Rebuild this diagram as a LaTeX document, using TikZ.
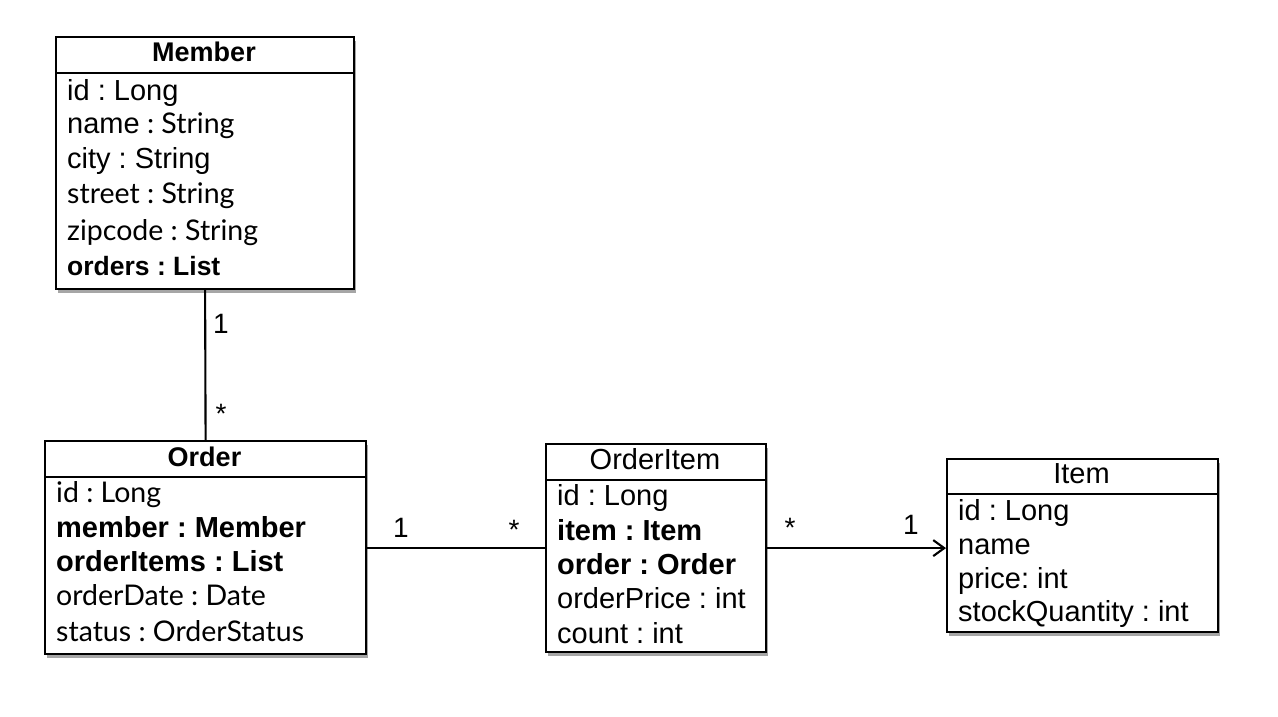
\documentclass[tikz,border=0pt]{standalone}
\usepackage{fontspec}
\setmainfont{Liberation Sans}
\newfontfamily\lightf{Lato}
\usetikzlibrary{arrows.meta,shadows}
\begin{document}
\frenchspacing
\begin{tikzpicture}[x=1pt,y=-1pt,
  cls/.style={draw, line width=2.2pt, fill=white, anchor=north west, inner sep=0pt,
    drop shadow={shadow xshift=2pt, shadow yshift=-3.5pt, opacity=0.35, fill=black}},
  conn/.style={line width=2.1pt},
  row/.style={anchor=base west, inner sep=0pt, font=\fontsize{29}{32}\selectfont},
  bm/.style={font=\fontsize{26.5}{30}\selectfont\bfseries},
  bo/.style={font=\fontsize{29}{32}\selectfont\bfseries},
  ttl/.style={anchor=base, inner sep=0pt, font=\fontsize{27}{30}\selectfont\bfseries},
  ttlr/.style={anchor=base, inner sep=0pt, font=\fontsize{29}{32}\selectfont},
  mult/.style={anchor=base, inner sep=0pt, font=\fontsize{28}{30}\selectfont},
  lt/.style={font=\fontsize{28.5}{32}\selectfont\lightf}]
\useasboundingbox[fill=white] (0,0) rectangle (1278,716);

% Member
\node[cls, minimum width=298pt, minimum height=252pt] (member) at (55,36) {};
\draw[conn] (member.north west) ++(0,37) -- ++(298,0);
\node[ttl] (memberT) at (204,61) {Member};
\node[row] (m1) at (67,100) {id : Long};
\node[row] (m2) at (67,133) {name{\fontsize{28.5}{32}\selectfont\lightf{} : String}};
\node[row] (m3) at (67,168) {city : String};
\node[row,lt] (m4) at (67,203) {street : String};
\node[row,lt] (m5) at (67,240) {zipcode : String};
\node[row,bm] (m6) at (67,275) {orders : List};

% Order
\node[cls, minimum width=321pt, minimum height=213pt] (order) at (44,440) {};
\draw[conn] (order.north west) ++(0,37) -- ++(321,0);
\node[ttl] (orderT) at (204.5,466) {Order};
\node[row,lt] (o1) at (56,502) {id : Long};
\node[row,bo] (o2) at (56,537) {member : Member};
\node[row,bo] (o3) at (56,571) {orderItems : List};
\node[row,lt] (o4) at (56,605) {orderDate : Date};
\node[row,lt] (o5) at (56,641) {status : OrderStatus};

% OrderItem
\node[cls, minimum width=220pt, minimum height=208pt] (orderitem) at (545,443) {};
\draw[conn] (orderitem.north west) ++(0,37) -- ++(220,0);
\node[ttlr] (orderitemT) at (655,469) {OrderItem};
\node[row] (i1) at (557,505) {id : Long};
\node[row,bo] (i2) at (557,540) {item : Item};
\node[row,bo] (i3) at (557,574) {order : Order};
\node[row] (i4) at (557,608) {orderPrice : int};
\node[row] (i5) at (557,643) {count : int};

% Item
\node[cls, minimum width=271pt, minimum height=173pt] (item) at (946,458) {};
\draw[conn] (item.north west) ++(0,36) -- ++(271,0);
\node[ttlr] (itemT) at (1081.5,483) {Item};
\node[row] (t1) at (958,520) {id : Long};
\node[row] (t2) at (958,554) {name};
\node[row] (t3) at (958,588) {price: int};
\node[row] (t4) at (958,621) {stockQuantity : int};

% connectors
\draw[conn] (member.south) -- (order.north);
\node[mult] (mo1) at (221,333) {1};
\node[mult] (mo2) at (221,423) {*};
\draw[conn] (order.east) -- (order.east -| orderitem.west);
\node[mult] (oi1) at (401,537) {1};
\node[mult] (oi2) at (514,539) {*};
\draw[conn, -{Straight Barb[length=11pt,width=16pt,line width=2.1pt]}] (orderitem.east) -- (orderitem.east -| item.west);
\node[mult] (it1) at (790,537) {*};
\node[mult] (it2) at (911,534) {1};
\end{tikzpicture}
\end{document}
